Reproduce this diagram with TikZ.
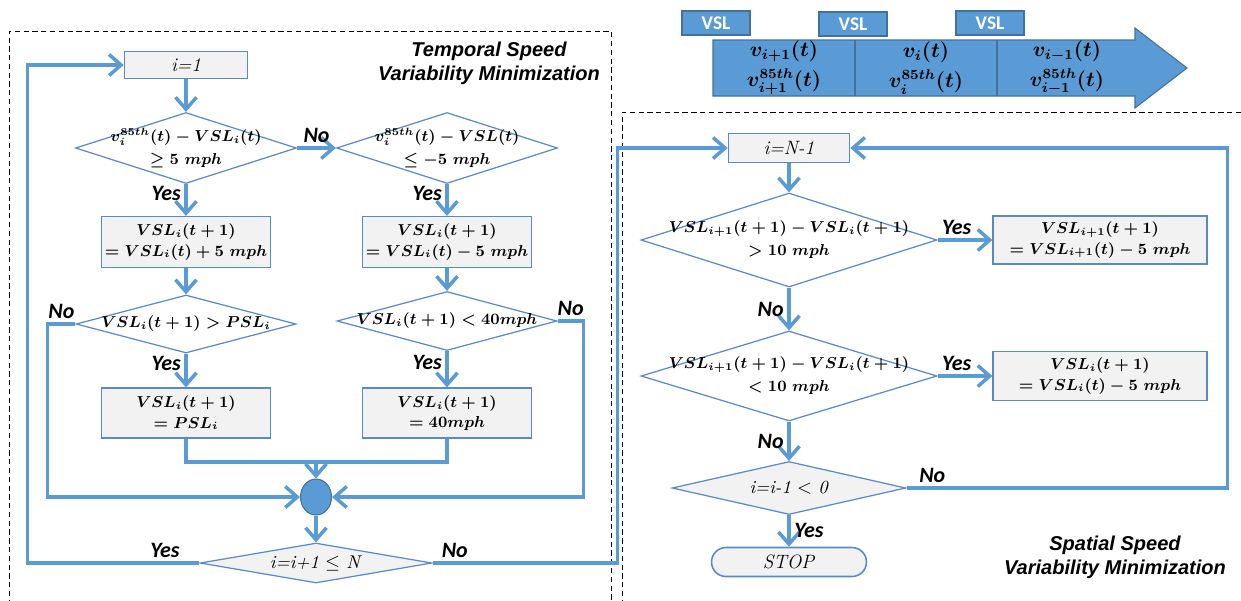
\documentclass[tikz,border=0pt]{standalone}
\usepackage{fontspec}
\newfontfamily\lblfont{Carlito}
\newfontfamily\ttlfont{Liberation Sans}
\usetikzlibrary{shapes.geometric,arrows.meta}

\definecolor{lineblue}{HTML}{5B9BD5}
\definecolor{edgeblue}{HTML}{5A8AC6}
\definecolor{darkblue}{HTML}{41719C}
\definecolor{boxgray}{HTML}{F2F2F2}

\begin{document}
\begin{tikzpicture}[x=0.02cm,y=-0.02cm,
  flow/.style={line width=2pt,lineblue,-{Straight Barb[length=2.4mm,width=4.2mm]}},
  link/.style={line width=2pt,lineblue},
  procbox/.style={draw=edgeblue,fill=boxgray,line width=0.7pt,inner sep=0pt,
    minimum width=3.38cm,minimum height=1.02cm,align=center,
    font=\fontsize{9.2}{11.5}\selectfont\boldmath},
  decide/.style={diamond,draw=edgeblue,line width=0.7pt,inner sep=0pt,aspect=3},
  dtext/.style={align=center,inner sep=0pt,font=\fontsize{9.2}{13}\selectfont\boldmath},
  startbox/.style={draw=edgeblue,fill=boxgray,line width=0.9pt,inner sep=0pt,font=\fontsize{11}{12}\selectfont},
  yn/.style={text=black,font=\lblfont\bfseries\itshape\fontsize{12.5}{14}\selectfont,inner sep=2pt},
  ttl/.style={align=center,font=\ttlfont\bfseries\itshape\fontsize{11.4}{13.8}\selectfont},
  vslbox/.style={draw=darkblue,fill=lineblue,line width=0.6pt,minimum width=1.36cm,
    minimum height=0.48cm,inner sep=0pt,text=white,font=\lblfont\bfseries\fontsize{11}{13}\selectfont},
  celltext/.style={align=center,inner sep=0pt,font=\fontsize{12}{17}\selectfont\boldmath}]
\useasboundingbox (0,0) rectangle (1241,600);

% frames
\draw[densely dashed,line width=0.5pt] (9,605) -- (9,31) -- (611,31) -- (611,605);
\draw[densely dashed,line width=0.5pt] (622,605) -- (622,112) -- (1245,112);
\node[ttl] (ttlA) at (489,63) {Temporal Speed\\Variability Minimization};
\node[ttl] (ttlB) at (1115,557) {Spatial Speed\\Variability Minimization};

% road segments
\draw[darkblue,fill=lineblue,line width=0.6pt] (713,40) -- (1135,40) -- (1135,28) -- (1187,68)
  -- (1135,108) -- (1135,96) -- (713,96) -- cycle;
\draw[darkblue,line width=0.6pt] (855,40) -- (855,96) (997,40) -- (997,96);
\node[celltext] (segA) at (784,68) {$v_{i+1}(t)$\\$v_{i+1}^{85th}(t)$};
\node[celltext] (segB) at (926,68) {$v_{i}(t)$\\$v_{i}^{85th}(t)$};
\node[celltext] (segC) at (1067,68) {$v_{i-1}(t)$\\$v_{i-1}^{85th}(t)$};
\node[vslbox] (vslA) at (716,23) {VSL};
\node[vslbox] (vslB) at (853,24) {VSL};
\node[vslbox] (vslC) at (990,23) {VSL};

% temporal part
\node[startbox,minimum width=2.46cm,minimum height=0.54cm] (i1) at (186,65) {\textit{i=1}};
\node[decide,minimum width=4.42cm,minimum height=1.42cm] (d1) at (186,148) {};
\node[dtext] (d1t) at (d1) {$v_i^{85th}(t)-VSL_i(t)$\\$\geq 5\ mph$};
\node[decide,minimum width=4.42cm,minimum height=1.42cm] (d2) at (447,148) {};
\node[dtext] (d2t) at (d2) {$v_i^{85th}(t)-VSL(t)$\\$\leq -5\ mph$};
\node[procbox] (b1) at (186,242) {$VSL_i(t+1)$\\$=VSL_i(t)+5\ mph$};
\node[procbox] (b2) at (447,242) {$VSL_i(t+1)$\\$=VSL_i(t)-5\ mph$};
\node[decide,minimum width=4.4cm,minimum height=1.16cm] (d3) at (186,324) {};
\node[dtext] (d3t) at (d3) {$VSL_i(t+1)>PSL_i$};
\node[decide,minimum width=4.4cm,minimum height=1.18cm] (d4) at (447,321) {};
\node[dtext] (d4t) at (d4) {$VSL_i(t+1)<40mph$};
\node[procbox,minimum height=1cm] (b3) at (186,413) {$VSL_i(t+1)$\\$=PSL_i$};
\node[procbox,minimum height=1cm] (b4) at (447,413) {$VSL_i(t+1)$\\$=40mph$};
\node[ellipse,draw=darkblue,fill=lineblue,line width=0.6pt,minimum width=0.62cm,minimum height=0.72cm] (mrg) at (316,497) {};
\node[decide,fill=boxgray,minimum width=4.64cm,minimum height=0.8cm] (d5) at (316,563) {};
\node[inner sep=0pt,font=\fontsize{10.5}{12}\selectfont] (d5t) at (d5) {\textit{i=i+1} $\leq$ \textit{N}};
\coordinate (jn) at (316,462);

\draw[flow] (i1) -- (d1.north);
\draw[flow] (d1.east) -- node[yn,above] (no1) {No} (d2.west);
\draw[flow] (d1.south) -- node[yn,left,pos=0.3] (yes1) {Yes} (b1.north);
\draw[flow] (d2.south) -- node[yn,left,pos=0.3] (yes2) {Yes} (b2.north);
\draw[flow] (b1.south) -- (d3.north);
\draw[flow] (b2.south) -- (d4.north);
\draw[flow] (d3.south) -- node[yn,left,pos=0.3] (yes3) {Yes} (b3.north);
\draw[flow] (d4.south) -- node[yn,left,pos=0.3] (yes4) {Yes} (b4.north);
\draw[link] (b3.south) |- (jn) -| (b4.south);
\draw[flow] (jn) -- (mrg.north);
\draw[flow] (d3.west) -- node[yn,above] (no2) {No} ++(-28,0) |- (mrg.west);
\draw[flow] (d4.east) -- node[yn,above] (no3) {No} ++(26,0) |- (mrg.east);
\draw[flow] (mrg.south) -- (d5.north);

% spatial part
\node[startbox,minimum width=2.42cm,minimum height=0.58cm] (iN) at (789,148) {\textit{i=N-1}};
\node[decide,minimum width=5.92cm,minimum height=1.88cm] (r1) at (789,240) {};
\node[dtext] (r1t) at (r1) {$VSL_{i+1}(t+1)-VSL_i(t+1)$\\$>10\ mph$};
\node[procbox,minimum width=4.28cm,minimum height=0.96cm] (rb1) at (1100,240) {$VSL_{i+1}(t+1)$\\$=VSL_{i+1}(t)-5\ mph$};
\node[decide,minimum width=5.92cm,minimum height=1.8cm] (r2) at (789,376) {};
\node[dtext] (r2t) at (r2) {$VSL_{i+1}(t+1)-VSL_i(t+1)$\\$<10\ mph$};
\node[procbox,minimum width=4.28cm,minimum height=0.98cm] (rb2) at (1100,376) {$VSL_i(t+1)$\\$=VSL_i(t)-5\ mph$};
\node[decide,fill=boxgray,minimum width=4.68cm,minimum height=1.06cm] (r3) at (789,488) {};
\node[inner sep=0pt,font=\fontsize{10.5}{12}\selectfont] (r3t) at (r3) {\textit{i=i-1} $<$ \textit{0}};
\node[startbox,rounded corners=0.29cm,minimum width=3.1cm,minimum height=0.58cm] (stop) at (789,562) {\textit{STOP}};

\draw[flow] (iN) -- (r1.north);
\draw[flow] (r1.east) -- node[yn,above,pos=0.35] (yes5) {Yes} (rb1.west);
\draw[flow] (r1.south) -- node[yn,left] (no4) {No} (r2.north);
\draw[flow] (r2.east) -- node[yn,above,pos=0.35] (yes6) {Yes} (rb2.west);
\draw[flow] (r2.south) -- node[yn,left] (no5) {No} (r3.north);
\draw[flow] (r3.south) -- node[yn,right] (yes7) {Yes} (stop.north);
\draw[flow] (r3.east) -- node[yn,above,pos=0.08] (no6) {No} ++(321,0) |- (iN.east);

% loops between the parts
\draw[flow] (d5.west) -- node[yn,above,pos=0.2] (yes8) {Yes} ++(-172,0) |- (i1.west);
\draw[flow] (d5.east) -- node[yn,above,pos=0.12] (no7) {No} ++(185,0) |- (iN.west);
\end{tikzpicture}
\end{document}
